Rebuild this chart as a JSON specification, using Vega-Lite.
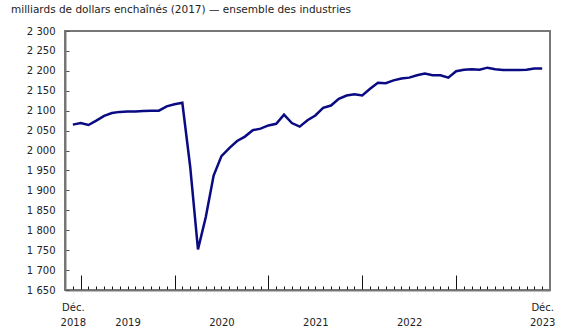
{
  "$schema": "https://vega.github.io/schema/vega-lite/v6.json",
  "autosize": "none",
  "width": 485,
  "height": 259,
  "padding": {"left": 65, "top": 31, "right": 30, "bottom": 45},
  "background": "white",
  "title": {
    "text": "milliards de dollars enchaînés (2017) — ensemble des industries",
    "anchor": "start",
    "frame": "group",
    "dx": -54,
    "dy": 9,
    "offset": 10,
    "baseline": "bottom",
    "font": "DejaVu Sans",
    "fontSize": 10.5,
    "fontWeight": "normal",
    "color": "#222"
  },
  "config": {
    "view": {"stroke": "#777", "strokeWidth": 2},
    "axis": {"labelFont": "DejaVu Sans", "labelFontSize": 10, "labelColor": "#222", "domainColor": "#777", "domainWidth": 2, "grid": false, "title": null}
  },
  "data": {
    "values": [
      {"t": 0, "v": 2065}, {"t": 1, "v": 2069}, {"t": 2, "v": 2064}, {"t": 3, "v": 2075},
      {"t": 4, "v": 2087}, {"t": 5, "v": 2094}, {"t": 6, "v": 2097}, {"t": 7, "v": 2098},
      {"t": 8, "v": 2098}, {"t": 9, "v": 2099}, {"t": 10, "v": 2100}, {"t": 11, "v": 2100},
      {"t": 12, "v": 2111}, {"t": 13, "v": 2116}, {"t": 14, "v": 2120}, {"t": 15, "v": 1960},
      {"t": 16, "v": 1752}, {"t": 17, "v": 1833}, {"t": 18, "v": 1937}, {"t": 19, "v": 1986},
      {"t": 20, "v": 2006}, {"t": 21, "v": 2024}, {"t": 22, "v": 2035}, {"t": 23, "v": 2051},
      {"t": 24, "v": 2055}, {"t": 25, "v": 2063}, {"t": 26, "v": 2067}, {"t": 27, "v": 2090},
      {"t": 28, "v": 2069}, {"t": 29, "v": 2060}, {"t": 30, "v": 2076}, {"t": 31, "v": 2088},
      {"t": 32, "v": 2107}, {"t": 33, "v": 2113}, {"t": 34, "v": 2130}, {"t": 35, "v": 2138},
      {"t": 36, "v": 2141}, {"t": 37, "v": 2138}, {"t": 38, "v": 2155}, {"t": 39, "v": 2170},
      {"t": 40, "v": 2169}, {"t": 41, "v": 2176}, {"t": 42, "v": 2181}, {"t": 43, "v": 2183},
      {"t": 44, "v": 2189}, {"t": 45, "v": 2193}, {"t": 46, "v": 2189}, {"t": 47, "v": 2189},
      {"t": 48, "v": 2183}, {"t": 49, "v": 2199}, {"t": 50, "v": 2203}, {"t": 51, "v": 2204},
      {"t": 52, "v": 2203}, {"t": 53, "v": 2208}, {"t": 54, "v": 2204}, {"t": 55, "v": 2202},
      {"t": 56, "v": 2202}, {"t": 57, "v": 2202}, {"t": 58, "v": 2203}, {"t": 59, "v": 2206},
      {"t": 60, "v": 2206}
    ]
  },
  "mark": {"type": "line", "color": "#0a0a82", "strokeWidth": 2.5},
  "encoding": {
    "x": {
      "field": "t",
      "type": "quantitative",
      "scale": {"domain": [-1, 61], "nice": false, "zero": false},
      "axis": {
        "values": [0,1,2,3,4,5,6,7,8,9,10,11,12,13,14,15,16,17,18,19,20,21,22,23,24,25,26,27,28,29,30,31,32,33,34,35,36,37,38,39,40,41,42,43,44,45,46,47,48,49,50,51,52,53,54,55,56,57,58,59,60],
        "tickSize": {"condition": {"test": "datum.value % 12 == 1", "value": -15}, "value": -4},
        "tickColor": "#111",
        "tickWidth": 1,
        "labelOverlap": false,
        "labelFlush": false,
        "labelBound": false,
        "labelPadding": 16,
        "labelLineHeight": 15,
        "labelExpr": "datum.value == 0 ? ['Déc.', '2018'] : datum.value == 60 ? ['Déc.', '2023'] : datum.value == 7 ? ['', '2019'] : datum.value == 19 ? ['', '2020'] : datum.value == 31 ? ['', '2021'] : datum.value == 43 ? ['', '2022'] : ''"
      }
    },
    "y": {
      "field": "v",
      "type": "quantitative",
      "scale": {"domain": [1650, 2300], "nice": false, "zero": false},
      "axis": {
        "values": [1650,1700,1750,1800,1850,1900,1950,2000,2050,2100,2150,2200,2250,2300],
        "tickSize": -4,
        "tickColor": "#555",
        "labelPadding": 14,
        "labelExpr": "replace(format(datum.value, ','), ',', ' ')"
      }
    }
  }
}
